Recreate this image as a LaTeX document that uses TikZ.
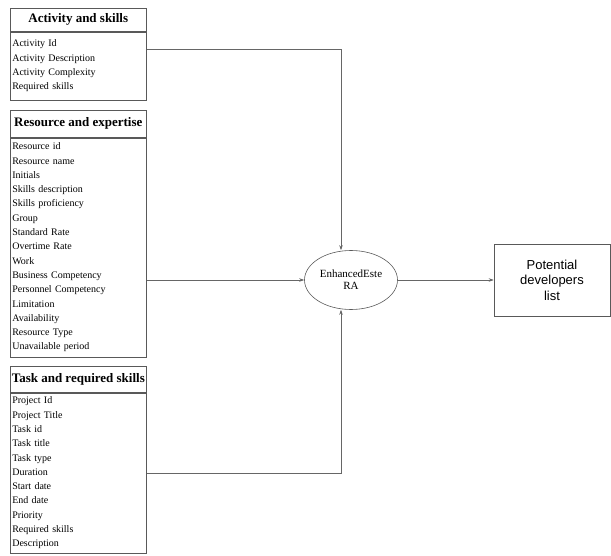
\documentclass[tikz,border=0pt]{standalone}
\usepackage{fontspec}
\setmainfont{Liberation Serif}
\newfontfamily\boxfont{Liberation Sans}
\usepackage{tikz}
\usetikzlibrary{arrows.meta, shapes.geometric}

\tikzset{
  head/.style={draw=black!65, line width=0.6pt, anchor=north west, inner sep=0pt,
    minimum width=136pt, font=\fontsize{13}{15}\selectfont\bfseries},
  list/.style={draw=black!65, line width=0.6pt, anchor=north west, inner xsep=2pt, inner ysep=0pt,
    minimum width=136pt, text width=132pt, align=left, font=\fontsize{10}{14.3}\selectfont},
  flow/.style={draw=black!60, line width=0.6pt, -{Stealth[length=5pt,width=3.5pt]}}
}

\begin{document}
\begin{tikzpicture}[x=1pt, y=-1pt]
    \useasboundingbox (0,0) rectangle (611,556);

    % activity and skills
    \node[head, minimum height=23pt] (acthead) at (10,8) {Activity and skills};
    \node[list, minimum height=68pt] (actbody) at (acthead.south west) {Activity Id\\Activity Description\\Activity Complexity\\Required skills};

    % resource and expertise
    \node[head, minimum height=27pt] (reshead) at (10,110) {Resource and expertise};
    \node[list, minimum height=219pt] (resbody) at (reshead.south west) {Resource id\\Resource name\\Initials\\Skills description\\Skills proficiency\\Group\\Standard Rate\\Overtime Rate\\Work\\Business Competency\\Personnel Competency\\Limitation\\Availability\\Resource Type\\Unavailable period};

    % task and required skills
    \node[head, minimum height=26pt] (taskhead) at (10,366) {Task and required skills};
    \node[list, minimum height=160pt] (taskbody) at (taskhead.south west) {Project Id\\Project Title\\Task id\\Task title\\Task type\\Duration\\Start date\\End date\\Priority\\Required skills\\Description};

    % process and output
    \node[draw=black!65, line width=0.6pt, ellipse, minimum width=93pt, minimum height=59pt, inner sep=0pt,
      align=center, font=\fontsize{11}{12}\selectfont] (era) at (351,280) {EnhancedEste\\RA};
    \node[draw=black!65, line width=0.6pt, minimum width=116pt, minimum height=72pt, inner sep=0pt,
      align=center, font=\boxfont\fontsize{13}{15.5}\selectfont] (dev) at (552,280) {Potential\\developers\\list};

    \draw[flow] ([yshift=-18pt]actbody.north east) -| ([xshift=-10pt]era.north);
    \draw[flow] (resbody.east |- era.west) -- (era.west);
    \draw[flow] (taskbody.east) -| ([xshift=-10pt]era.south);
    \draw[flow] (era.east) -- (dev.west);
\end{tikzpicture}
\end{document}
